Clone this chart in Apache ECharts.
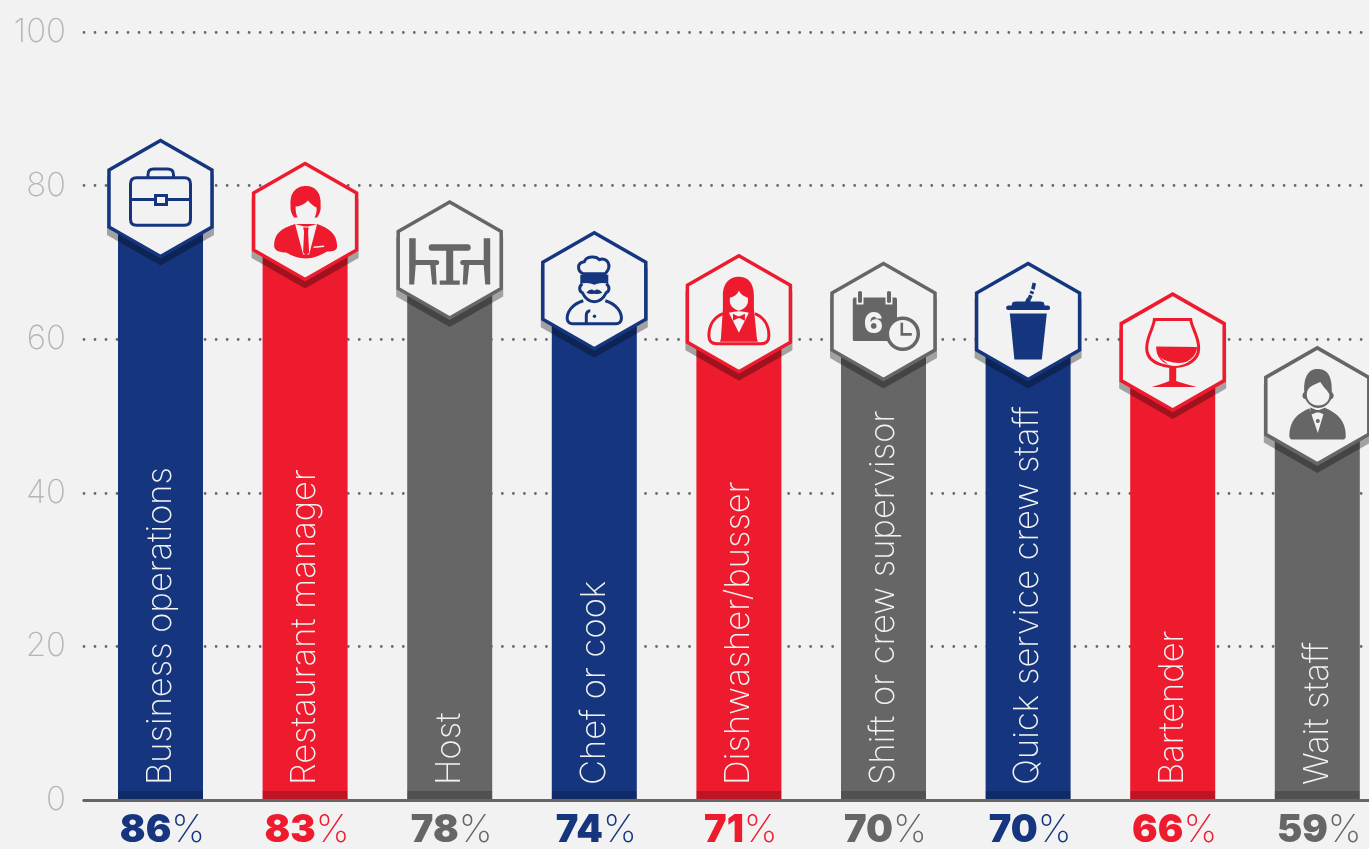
<!DOCTYPE html>
<html>
<head>
<meta charset="utf-8">
<style>html,body{margin:0;padding:0;background:#f2f2f2}#chart{width:1369px;height:849px}</style>
<script src="https://cdn.jsdelivr.net/npm/echarts@6/dist/echarts.min.js"></script>
</head>
<body>
<div id="chart"></div>
<script>
var categories = ['Business operations', 'Restaurant manager', 'Host', 'Chef or cook', 'Dishwasher/busser', 'Shift or crew supervisor', 'Quick service crew staff', 'Bartender', 'Wait staff'];
var values = [86, 83, 78, 74, 71, 70, 70, 66, 59];
var colorIndex = [0, 1, 2, 0, 1, 2, 0, 1, 2];
var iconNames = ['briefcase', 'manager', 'table', 'chef', 'woman', 'calendar', 'cup', 'glass', 'waiter'];

var BG = '#f2f2f2';
var colors = ['#15367f', '#ee1b2e', '#666666'];
var font = 'Inter';

// icon parts, drawn around the hexagon centre. f = fill, b = background fill, s = stroke
var icons = {
  briefcase: [
    ['s', 'M-24 -20.7 L24 -20.7 Q30 -20.7 30 -14.7 L30 20.7 Q30 26.7 24 26.7 L-24 26.7 Q-30 26.7 -30 20.7 L-30 -14.7 Q-30 -20.7 -24 -20.7Z'],
    ['s', 'M-30 1 L-5 1 M6 1 L30 1'],
    ['s', 'M-5 -3 L6 -3 L6 6 L-5 6Z'],
    ['s', 'M-12.5 -20.7 L-12.5 -24 Q-12.5 -29.5 -7 -29.5 L7 -29.5 Q13 -29.5 13 -24 L13 -20.7']
  ],
  manager: [
    ['f', 'M-14.5 -16 C-15.5 -30 -8 -35.5 1 -35.5 C10 -35.5 16.5 -29 15.5 -16 C16 -12 15 -8 12 -4 L-11 -4 C-14 -8 -15 -12 -14.5 -16Z'],
    ['b', 'M-9.5 -15 C-6 -15 -1 -17 3 -21 C5 -18 9 -15 11.5 -14 C12 -6 8 1.5 1 2 C-6 1.5 -10 -6 -9.5 -15Z'],
    ['f', 'M-31 24 C-31 12 -24 7 -10 2.5 L12 2.5 C25 7 32 13 32 25 C32 29 28 30 22 30 C15 34 8 37 1 37 C-6 37 -14 34 -19 31 C-26 31 -31 29 -31 24Z'],
    ['b', 'M-10 2.5 L-2 33 L4 33 L12 2.5 L3 5 L-1 5Z'],
    ['f', 'M-2 6 L3.5 6 L3 10 L4 31 L1 34 L-2 31 L-1 10Z'],
    ['b', 'M8.5 25 L19 24 L19 25.5 L8.5 26.5Z']
  ],
  table: [
    ['f', 'M-40.5 -21.7 L-34 -21.7 L-34 0 L-13 0 Q-10.5 0 -10.5 2.5 Q-10.5 5 -13 5 L-14 5 L-13 24.5 L-17.5 24.5 L-19.5 5 L-34 5 L-35.5 24.5 L-40.5 24.5Z'],
    ['f', 'M40.5 -21.7 L34 -21.7 L34 0 L13 0 Q10.5 0 10.5 2.5 Q10.5 5 13 5 L14 5 L13 24.5 L17.5 24.5 L19.5 5 L34 5 L35.5 24.5 L40.5 24.5Z'],
    ['f', 'M-18 -15.7 L18 -15.7 Q21 -15.7 21 -12.5 Q21 -9.3 18 -9.3 L3.5 -9.3 L3.5 20.5 L10 20.5 L10 24.7 L-10 24.7 L-10 20.5 L-3.5 20.5 L-3.5 -9.3 L-18 -9.3 Q-21 -9.3 -21 -12.5 Q-21 -15.7 -18 -15.7Z']
  ],
  chef: [
    ['s', 'M-11 -17 C-17 -19 -18 -28 -10 -29 C-8 -35 2 -35 5 -31 C12 -34 19 -26 11 -17Z'],
    ['f', 'M-14 -16 L14 -16 L14 -7 Q6 -9 0 -6 Q-6 -9 -14 -7Z'],
    ['s', 'M-12 -7 C-16 -4 -15 1 -12 2 C-9 8 -5 11 0 11 C5 11 9 8 12 2 C15 1 16 -4 12 -7'],
    ['f', 'M-8 2 Q-4 -3 0 0 Q4 -3 8 2 Q4 4 0 3 Q-4 4 -8 2Z'],
    ['s', 'M-11 10 C-22 13 -28 22 -27 29 Q-26 33 -22 33 L22 33 Q26 33 27 29 C28 22 22 13 11 10'],
    ['s', 'M-8 33 L-8 25 Q-8 20 -4 20'],
    ['f', 'M-1.5 25.5 A1.7 1.7 0 1 0 1.9 25.5 A1.7 1.7 0 1 0 -1.5 25.5Z']
  ],
  woman: [
    ['s', 'M-16 0 C-26 4 -30 13 -30 22 Q-30 30 -22 30 L22 30 Q30 30 30 22 C30 13 26 4 16 0'],
    ['f', 'M-16 -18 C-16 -32 -8 -37 0 -37 C8 -37 15 -32 15 -18 L15 -5 L18 25 L19 28 L-19 28 L-18 25 L-16 -5Z'],
    ['b', 'M-9 -16 C-5 -17 -2 -19 0 -23 C2 -19 6 -17 9 -16 C10 -8 6 -5 0 -3 C-6 -5 -10 -8 -9 -16Z'],
    ['b', 'M-10 -1 Q0 -4 10 -1 L0 19Z'],
    ['f', 'M-6 0 L-1 2.5 L1 2.5 L6 0 L6 7 L1 4.5 L-1 4.5 L-6 7Z']
  ],
  calendar: [
    ['f', 'M-29 -24 L12 -24 Q13.5 -24 13.5 -22 L13.5 19.7 L-29 19.7 Q-30.7 19.7 -30.7 18 L-30.7 -22 Q-30.7 -24 -29 -24Z'],
    ['b', 'M-27 -30 L-20 -30 L-20 -17 L-27 -17Z M2 -30 L9 -30 L9 -17 L2 -17Z'],
    ['f', 'M-25.5 -29.5 Q-23.5 -31.5 -21.5 -29.5 L-21.5 -19.5 Q-23.5 -17.5 -25.5 -19.5Z M3.5 -29.5 Q5.5 -31.5 7.5 -29.5 L7.5 -19.5 Q5.5 -17.5 3.5 -19.5Z'],
    ['t', '6', -10, 3],
    ['c', 19.3, 12.3, 15.5]
  ],
  cup: [
    ['f', 'M-16.5 -16 L-16 -18 Q-16 -20 -12 -20 L-3 -20 L-1 -24 L3 -22 L2 -20 L12 -20 Q16 -20 16 -18 L16.5 -16 L20 -16 Q22 -16 22 -13.5 Q22 -11.5 20 -11.5 L-20 -11.5 Q-22 -11.5 -22 -13.5 Q-22 -16 -20 -16Z'],
    ['f', 'M-18.3 -8 L18.7 -8 L13.7 38 L-13.7 38Z'],
    ['f', 'M1 -27 L4.5 -25.5 L3 -22 L-0.5 -23.5Z M2.5 -31 L6 -29.5 L5 -27 L1.5 -28.5Z M4.5 -39 L8 -37.8 L6.5 -31.5 L3 -33Z']
  ],
  glass: [
    ['s', 'M-18.3 -32.7 L18 -32.7 C19 -24 26 -16 26 -4 C26 9 13 14 3 14.5 L-3 14.5 C-15 13 -26 8 -26 -4 C-26 -16 -19 -24 -18.3 -32.7Z'],
    ['f', 'M-16.5 -5.5 L24.5 -5 C24 5 14 12 0 14 C-10 12 -17 5 -16.5 -5.5Z'],
    ['b', 'M-13 5 Q-3 13 16 10 Q5 16 -4 13Z'],
    ['f', 'M-3.5 14 L3.5 14 L3.5 29 C9 31 17 33 24 35 L-21 35 C-14 33 -8 31 -3.5 29Z']
  ],
  waiter: [
    ['f', 'M-13 -14 C-14 -30 -8 -37 0 -37 C9 -37 15 -32 14.5 -14 C17.5 -12 16.5 -7 14 -7 C11 -1 6 2 1 2 C-4 2 -9 -1 -12 -7 C-15 -7 -16 -12 -13 -14Z'],
    ['b', 'M-10.5 -12 C-10 -20 -3 -21 3 -24 C5 -20 9 -17 12 -12 C13 -5 7 -0.5 1 -0.5 C-5 -0.5 -11 -5 -10.5 -12Z'],
    ['f', 'M-28 30 C-28 15 -20 7 -7 2 L8 2 C20 7 28.5 15 28.5 30 Q28.5 33.7 25 33.7 L-24 33.7 Q-28 33.7 -28 30Z'],
    ['b', 'M-8 2 L0.5 27 L8 2Z'],
    ['f', 'M-7 1.5 L-1 4 L2 4 L8 1.5 L8 9 L2 6.5 L-1 6.5 L-7 9Z'],
    ['f', 'M-1.5 15 A2 2 0 1 0 2.5 15 A2 2 0 1 0 -1.5 15Z']
  ]
};

function renderItem(params, api) {
  var i = api.value(0);
  var top = api.coord([i, api.value(1)]);
  var base = api.coord([i, 0]);
  var c = colors[colorIndex[i]];
  var cx = top[0];
  var w = 51.5, h = 58, sh = 28.5; // half width, half height, shoulder offset
  var cy = top[1] + h + 1;
  var hexPts = [[0, -h], [w, -sh], [w, sh], [0, h], [-w, sh], [-w, -sh]];

  var children = [
    { type: 'rect', shape: { x: cx - 42.5, y: cy, width: 85, height: base[1] - cy }, style: { fill: c } },
    { type: 'rect', shape: { x: cx - 42.5, y: base[1] - 9, width: 85, height: 9 }, style: { fill: 'rgba(0,0,0,0.2)' } },
    {
      type: 'text', x: cx, y: base[1] - 15, rotation: Math.PI / 2,
      style: { text: categories[i], fill: BG, font: '200 34.5px ' + font, textAlign: 'left', textVerticalAlign: 'middle' }
    },
    { type: 'polygon', x: cx, y: cy + 7, shape: { points: [[0, -h - 2], [w + 2, -sh - 1], [w + 2, sh + 1], [0, h + 2], [-w - 2, sh + 1], [-w - 2, -sh - 1]] }, style: { fill: 'rgba(0,0,0,0.33)' } },
    { type: 'polygon', x: cx, y: cy, shape: { points: hexPts }, style: { fill: BG, stroke: c, lineWidth: 3.5, lineJoin: 'miter' } }
  ];

  var parts = [];
  icons[iconNames[i]].forEach(function (p) {
    if (p[0] === 'f') parts.push({ type: 'path', shape: { pathData: p[1] }, style: { fill: c } });
    if (p[0] === 'b') parts.push({ type: 'path', shape: { pathData: p[1] }, style: { fill: BG } });
    if (p[0] === 's') parts.push({ type: 'path', shape: { pathData: p[1] }, style: { fill: 'none', stroke: c, lineWidth: 3 } });
    if (p[0] === 't') parts.push({ type: 'text', x: p[2], y: p[3], style: { text: p[1], fill: BG, font: '900 28px ' + font, textAlign: 'center', textVerticalAlign: 'middle' } });
    if (p[0] === 'c') {
      parts.push({ type: 'circle', shape: { cx: p[1], cy: p[2], r: p[3] }, style: { fill: BG, stroke: c, lineWidth: 3.5 } });
      parts.push({ type: 'path', shape: { pathData: 'M-1 -11 L-1 0.7 L9 0.7' }, x: p[1], y: p[2], style: { fill: 'none', stroke: c, lineWidth: 2.6 } });
    }
  });
  children.push({ type: 'group', x: cx, y: cy, children: parts });

  return { type: 'group', children: children };
}

function digits(c) { return { fontFamily: font, fontSize: 38, fontWeight: 900, color: c }; }
function percent(c) { return { fontFamily: font, fontSize: 38, fontWeight: 200, color: c }; }

var chart = echarts.init(document.getElementById('chart'));
chart.setOption({
  backgroundColor: BG,
  animation: false,
  grid: [
    { left: 84, right: 0, top: 32, bottom: 49, outerBoundsMode: 'none' },
    { left: 88.2, right: -20.6, top: 32, bottom: 49, outerBoundsMode: 'none' }
  ],
  xAxis: [
    {
      gridIndex: 0, type: 'category', data: [], z: 5,
      axisLine: { lineStyle: { color: '#666666', width: 3 } },
      axisTick: { show: false }, axisLabel: { show: false }
    },
    {
      gridIndex: 1, type: 'category', data: categories,
      axisLine: { show: false }, axisTick: { show: false },
      axisLabel: {
        interval: 0, margin: 12, hideOverlap: false,
        padding: [0, 0, 0, 4],
        formatter: function (v, i) {
          var k = 'c' + colorIndex[i];
          return '{' + k + '|' + values[i] + '}{' + k + 'p|%}';
        },
        rich: {
          c0: digits(colors[0]), c1: digits(colors[1]), c2: digits(colors[2]),
          c0p: percent(colors[0]), c1p: percent(colors[1]), c2p: percent(colors[2])
        }
      }
    }
  ],
  yAxis: [
    {
      gridIndex: 0, type: 'value', min: 0, max: 100, interval: 20,
      axisLine: { show: false }, axisTick: { show: false },
      axisLabel: { color: '#b5b5b5', fontFamily: font, fontWeight: 200, fontSize: 33, margin: 18, padding: [3, 0, 0, 0] },
      splitLine: { lineStyle: { color: '#6a6a6a', width: 2.8, type: [0.01, 11], cap: 'round' } }
    },
    {
      gridIndex: 1, type: 'value', min: 0, max: 100, interval: 20,
      axisLine: { show: false }, axisTick: { show: false }, axisLabel: { show: false }, splitLine: { show: false }
    }
  ],
  series: [{
    type: 'custom',
    xAxisIndex: 1, yAxisIndex: 1,
    clip: false,
    renderItem: renderItem,
    encode: { x: 0, y: 1 },
    data: values.map(function (v, i) { return [i, v]; })
  }]
});
</script>
</body>
</html>
